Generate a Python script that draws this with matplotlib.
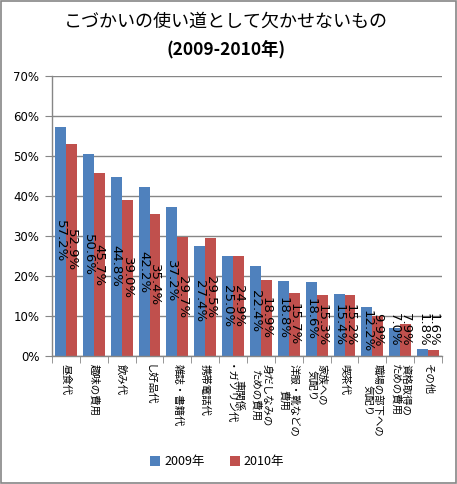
import numpy as np
import matplotlib
matplotlib.use('Agg')
import matplotlib.pyplot as plt
from matplotlib.patches import Rectangle

plt.rcParams['font.family'] = ['Noto Sans CJK JP', 'DejaVu Sans']

#%% data
categories = ['昼食代', '趣味の費用', '飲み代', 'し好品代', '雑誌・書籍代', '携帯電話代',
              '車関係\n・ガソリン代', '身だしなみの\nための費用', '洋服・靴などの\n費用',
              '家族への\n気配り', '喫茶代', '職場の部下への\n気配り', '資格取得の\nための費用', 'その他']
y2009 = [57.2, 50.6, 44.8, 42.2, 37.2, 27.4, 25.0, 22.4, 18.8, 18.6, 15.4, 12.2, 7.0, 1.8]
y2010 = [52.9, 45.7, 39.0, 35.4, 29.7, 29.5, 24.9, 18.9, 15.7, 15.3, 15.2, 9.9, 7.9, 1.6]
series = ['2009年', '2010年']
yticks = [0, 10, 20, 30, 40, 50, 60, 70]

BLUE = '#4F81BD'
RED = '#C0504D'
GRAY = '#868686'

fig = plt.figure(figsize=(4.57, 4.84), dpi=100)
ax = fig.add_axes([52/457, 1-356/484, 390/457, 280/484])

x = np.arange(len(categories))
w = 0.39
b1 = ax.bar(x - w/2, y2009, w, color=BLUE, label=series[0], zorder=2)
b2 = ax.bar(x + w/2, y2010, w, color=RED, label=series[1], zorder=2)

# data labels, rotated, centered in bar unless bar too short
for xs, vals in [(x - w/2, y2009), (x + w/2, y2010)]:
    for xi, v in zip(xs, vals):
        if v/2 < 5.5:
            ax.text(xi, 2.3, '%.1f%%' % v, rotation=-90, ha='center', va='bottom',
                    fontsize=9.5, family='DejaVu Sans', zorder=3)
        else:
            ax.text(xi, v/2, '%.1f%%' % v, rotation=-90, ha='center', va='center',
                    fontsize=9.5, family='DejaVu Sans', zorder=3)

ax.set_xlim(-0.5, len(categories) - 0.5)
ax.set_ylim(0, 70)
ax.set_yticks(yticks)
ax.set_yticklabels(['%d%%' % t for t in yticks], fontsize=8.5, family='DejaVu Sans')
ax.yaxis.grid(True, color=GRAY, linewidth=1, zorder=0)
ax.set_axisbelow(True)

ax.set_xticks(x)
ax.set_xticklabels(categories, fontsize=7.5, rotation=-90, ha='center', va='top',
                   multialignment='center', linespacing=1.0)
ax.tick_params(axis='x', length=0, pad=6)
ax.set_xticks(np.arange(-0.5, len(categories)), minor=True)
ax.tick_params(axis='x', which='minor', length=5, color=GRAY, direction='out')
ax.tick_params(axis='y', length=5, color=GRAY, direction='out', pad=4)

for s in ['top', 'right']:
    ax.spines[s].set_visible(False)
for s in ['left', 'bottom']:
    ax.spines[s].set_color(GRAY)
    ax.spines[s].set_linewidth(1)

fig.text(0.495, 1-22/484, 'こづかいの使い道として欠かせないもの', ha='center', va='center', fontsize=13)
fig.text(0.495, 1-50/484, '(2009-2010年)', ha='center', va='center', fontsize=12.5, fontweight='bold')

fig.legend(handles=[b1, b2], labels=series, loc='center', bbox_to_anchor=(0.475, 1-462/484),
           ncol=2, frameon=False, fontsize=9, handlelength=0.8, handleheight=0.8,
           handletextpad=0.3, columnspacing=2.0)

# chart border
fig.patches.append(Rectangle((0.002, 0.002), 0.996, 0.996, transform=fig.transFigure,
                             fill=False, edgecolor=GRAY, linewidth=1.2))

fig.savefig('out.png', dpi=100)
